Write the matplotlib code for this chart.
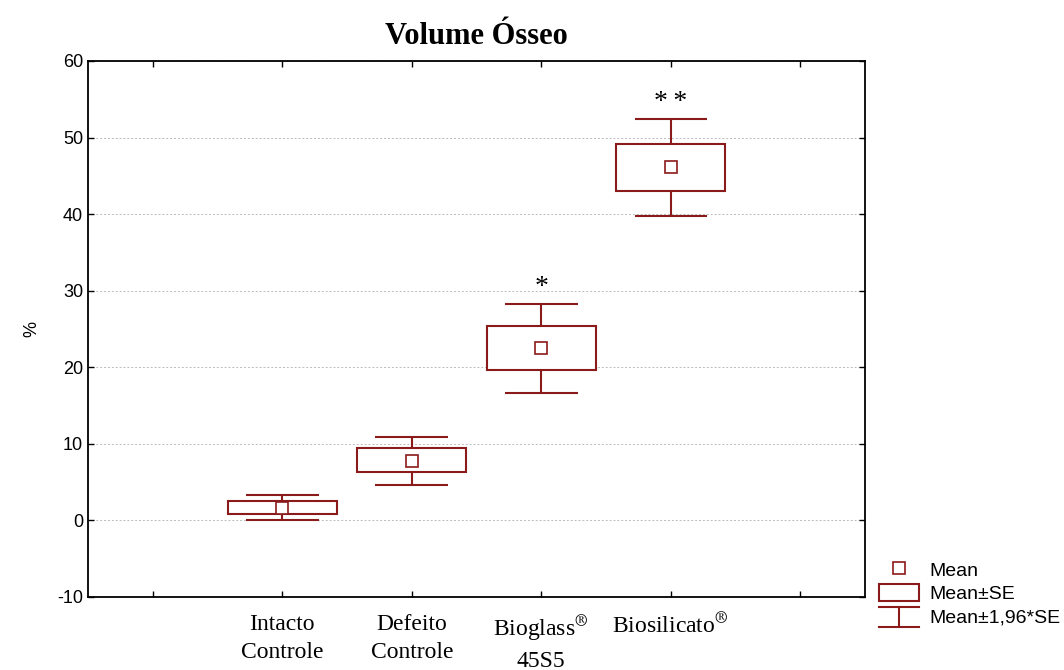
import matplotlib
matplotlib.use("Agg")
import matplotlib.pyplot as plt
from matplotlib.patches import Rectangle
from matplotlib.lines import Line2D
from matplotlib.legend_handler import HandlerBase

plt.rcParams['font.family'] = ['Liberation Sans', 'DejaVu Sans']
plt.rcParams['mathtext.fontset'] = 'stix'
plt.rcParams['axes.unicode_minus'] = False

# data
groups = ["Intacto\nControle", "Defeito\nControle", "Bioglass$^{\u00ae}$\n45S5", "Biosilicato$^{\u00ae}$"]
pos = [1, 2, 3, 4]
means = [1.6, 7.8, 22.5, 46.1]
se_low = [0.8, 6.3, 19.6, 43.0]
se_high = [2.5, 9.5, 25.4, 49.2]
ci_low = [0.0, 4.6, 16.6, 39.8]
ci_high = [3.3, 10.9, 28.2, 52.4]
stars = ["", "", "*", "*\u2009*"]

red = "#8b1a1a"

fig = plt.figure(figsize=(10.64, 6.70), dpi=100)
ax = fig.add_axes([0.0827, 0.109, 0.7303, 0.800])

bw = 0.84
cw = 0.56
for i in range(len(pos)):
    x = pos[i]
    ax.vlines(x, ci_low[i], se_low[i], color=red, lw=1.5)
    ax.vlines(x, se_high[i], ci_high[i], color=red, lw=1.5)
    ax.hlines([ci_low[i], ci_high[i]], x - cw/2, x + cw/2, color=red, lw=1.5)
    ax.add_patch(Rectangle((x - bw/2, se_low[i]), bw, se_high[i] - se_low[i],
                           facecolor="white", edgecolor=red, lw=1.5, zorder=3))
    if stars[i]:
        ax.annotate(stars[i], (x, ci_high[i]), xytext=(0, 3), textcoords="offset points",
                    ha="center", va="bottom", fontsize=20,
                    family=["Liberation Serif", "DejaVu Serif"])
ax.plot(pos, means, ls="none", marker="s", ms=8, mfc="white", mec=red, mew=1.2, zorder=4)

ax.set_xlim(-0.5, 5.5)
ax.set_ylim(-10, 60)
ax.set_yticks(range(-10, 61, 10))
ax.set_xticks(range(0, 6))
ax.tick_params(direction="in", top=True, right=True, length=4, width=1)
ax.tick_params(axis="y", labelsize=13)
ax.tick_params(axis="x", pad=12)
ax.set_xticklabels([""] + groups + [""], family="Liberation Serif", fontsize=17)
for t in ax.get_xticklabels():
    t.set_linespacing(1.45)
for s in ax.spines.values():
    s.set_linewidth(1.3)
ax.grid(axis="y", color="#bbbbbb", ls=(0, (2, 2)), lw=0.7)
ax.set_axisbelow(True)
ax.set_ylabel("%", fontsize=13, labelpad=12)
ax.set_title("Volume Ósseo", family="Liberation Serif", fontweight="bold", fontsize=22, pad=12)


class WhiskerHandler(HandlerBase):
    def create_artists(self, legend, orig_handle, xdescent, ydescent, width, height, fontsize, trans):
        x0 = -xdescent
        yc = -ydescent + height / 2
        y0 = yc - 0.6 * height
        y1 = yc + 0.5 * height
        xm = x0 + width / 2
        lines = [Line2D([x0, x0 + width], [y1, y1]), Line2D([x0, x0 + width], [y0, y0]),
                 Line2D([xm, xm], [y0, y1])]
        for l in lines:
            l.set_color(red)
            l.set_linewidth(1.5)
            l.set_transform(trans)
        return lines


h_mean = Line2D([], [], ls="none", marker="s", ms=8, mfc="white", mec=red, mew=1.2)
h_box = Rectangle((0, 0), 1, 1, facecolor="white", edgecolor=red, lw=1.5)
h_wh = object()
fig.legend([h_mean, h_box, h_wh], ["Mean", "Mean\u00b1SE", "Mean\u00b11,96*SE"],
           handler_map={object: WhiskerHandler()},
           loc="upper left", bbox_to_anchor=(0.81, 0.19), frameon=False, fontsize=14,
           handlelength=2.06, handleheight=1.0, handletextpad=0.5, labelspacing=0.22)

fig.savefig("out.png", dpi=100)
